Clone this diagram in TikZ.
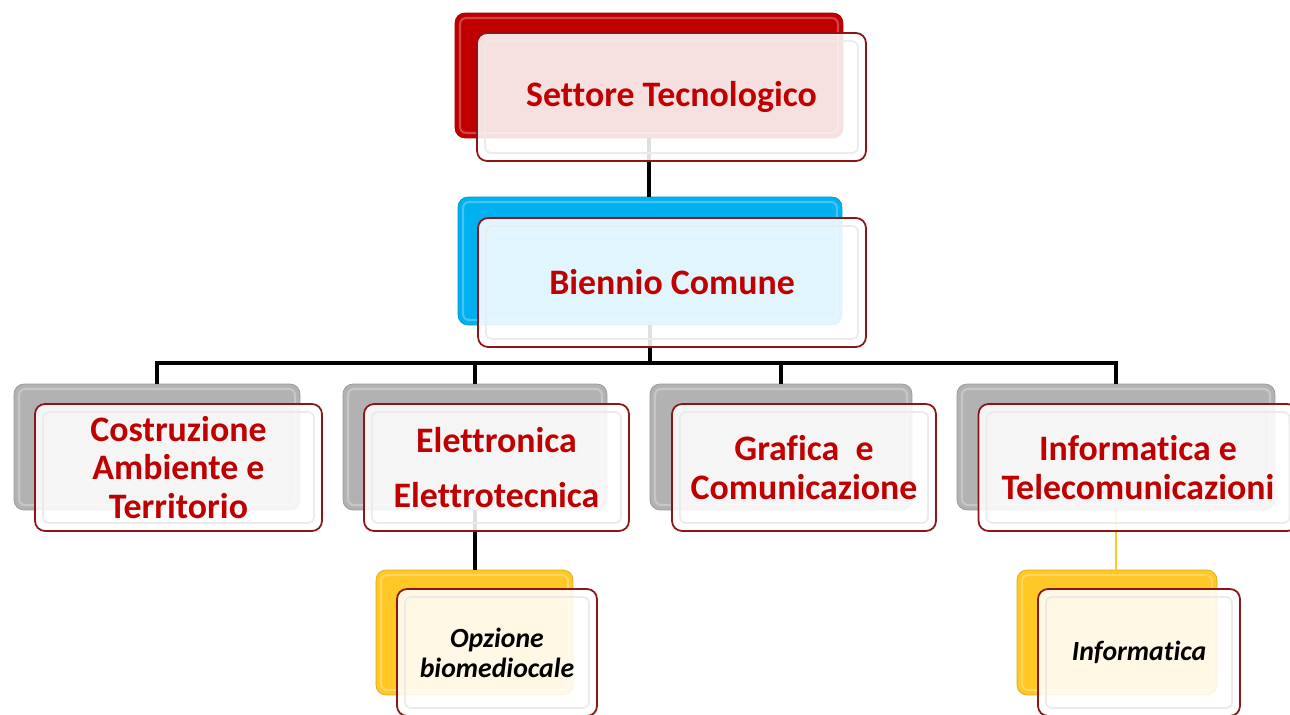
\documentclass[tikz,border=0pt]{standalone}
\usepackage{fontspec}
\setmainfont{Carlito}[Ligatures=NoCommon]
\definecolor{cred}{HTML}{C00000}
\definecolor{cblue}{HTML}{00B0F0}
\definecolor{cgray}{HTML}{B2B2B2}
\definecolor{cgold}{HTML}{FFC825}
\definecolor{frame}{HTML}{8C1515}
\definecolor{txtred}{HTML}{C00000}
\begin{document}
\begin{tikzpicture}[x=0.02cm,y=-0.02cm,
  backbox/.style={rounded corners=0.2cm, inner sep=0pt, outer sep=0pt,
    draw=#1!85!black, line width=0.4pt, fill=#1,
    path picture={\draw[#1!55!white, line width=1.2pt, rounded corners=0.12cm, opacity=0.6]
      ([shift={(0.1cm,-0.1cm)}]path picture bounding box.north west) rectangle
      ([shift={(-0.1cm,0.1cm)}]path picture bounding box.south east);}},
  frontbox/.style={rounded corners=0.2cm, draw=frame, line width=1pt, fill=white,
    fill opacity=0.88, text opacity=1, align=center, inner sep=0pt, outer sep=0pt,
    path picture={\draw[black!8, line width=1pt, rounded corners=0.12cm]
      ([shift={(0.16cm,-0.16cm)}]path picture bounding box.north west) rectangle
      ([shift={(-0.16cm,0.16cm)}]path picture bounding box.south east);}},
  redtext/.style={font=\fontsize{20.4}{22}\selectfont\bfseries, text=txtred},
  blacktext/.style={font=\fontsize{15.8}{17}\selectfont\bfseries\itshape, text=black},
  link/.style={line width=2.2pt, draw=black},
  goldlink/.style={line width=1.4pt, draw=cgold}]
\useasboundingbox (0,0) rectangle (1290,715);
\clip (0,0) rectangle (1290,715);
% back boxes
\node[backbox=cred, minimum width=7.76cm, minimum height=2.5cm] (stb) at (649,75.5) {};
\node[backbox=cblue, minimum width=7.68cm, minimum height=2.56cm] (bcb) at (650,261) {};
\node[backbox=cgray, minimum width=5.72cm, minimum height=2.52cm] (l1b) at (157,447) {};
\node[backbox=cgray, minimum width=5.28cm, minimum height=2.52cm] (l2b) at (475,447) {};
\node[backbox=cgray, minimum width=5.24cm, minimum height=2.52cm] (l3b) at (781,447) {};
\node[backbox=cgray, minimum width=6.36cm, minimum height=2.52cm] (l4b) at (1116,447) {};
\node[backbox=cgold, minimum width=3.94cm, minimum height=2.5cm] (opb) at (474.5,632.5) {};
\node[backbox=cgold, minimum width=4.0cm, minimum height=2.5cm] (ifb) at (1117,632.5) {};
% connectors
\coordinate (bus) at (651,363);
\draw[link] (stb.south) -- (stb.south |- bcb.north);
\draw[link] (bcb.south) -- (bcb.south |- bus);
\draw[link] (l1b.north) |- (bus) -| (l4b.north);
\draw[link] (l2b.north) -- (l2b.north |- bus);
\draw[link] (l3b.north) -- (l3b.north |- bus);
\draw[link] (l2b.south) -- (l2b.south |- opb.north);
\draw[goldlink] (l4b.south) -- (l4b.south |- ifb.north);
% front boxes
\node[frontbox, redtext, minimum width=7.78cm, minimum height=2.56cm] (stf) at (671.5,97) {Settore Tecnologico};
\node[frontbox, redtext, minimum width=7.76cm, minimum height=2.58cm] (bcf) at (672,282.5) {Biennio Comune};
\node[frontbox, redtext, minimum width=5.74cm, minimum height=2.54cm] (l1f) at (178.5,467.5) {Costruzione\\Ambiente e\\Territorio};
\node[frontbox, redtext, minimum width=5.30cm, minimum height=2.54cm] (l2f) at (496.5,467.5) {Elettronica\\[9.7pt]Elettrotecnica};
\node[frontbox, redtext, minimum width=5.28cm, minimum height=2.54cm] (l3f) at (804,467.5) {Grafica~ e\\Comunicazione};
\node[frontbox, redtext, minimum width=6.38cm, minimum height=2.54cm] (l4f) at (1138,467.5) {Informatica e\\Telecomunicazioni};
\node[frontbox, blacktext, minimum width=4.0cm, minimum height=2.54cm] (opf) at (497,652.5) {Opzione\\biomediocale};
\node[frontbox, blacktext, minimum width=4.04cm, minimum height=2.54cm] (iff) at (1139,652.5) {Informatica};
\end{tikzpicture}
\end{document}
